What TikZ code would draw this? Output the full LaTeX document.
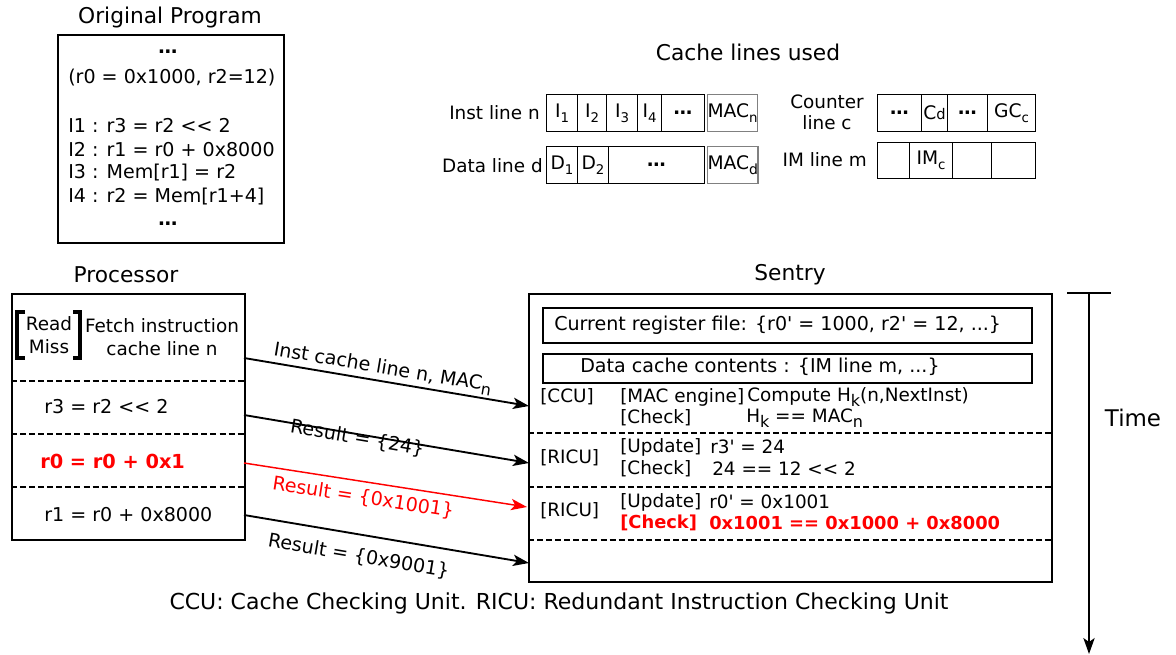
\documentclass[tikz,border=0pt]{standalone}
\usepackage{fontspec}
\setmainfont{DejaVu Sans}
\usetikzlibrary{arrows.meta}
\newcommand\lo[2][10]{\raisebox{-0.45ex}{\fontsize{#1}{#1}\selectfont #2}}
\newcommand\dotsb{{\bfseries\char"2026}}
\newcommand\ap{\XeTeXglyph\XeTeXglyphindex "quotesingle"\relax}
\newcommand\shl{<{}<}
\begin{document}
\begin{tikzpicture}[x=0.75pt,y=-0.75pt,
  pxw/.style={minimum width=#1*0.75pt},
  pxh/.style={minimum height=#1*0.75pt},
  title/.style={font=\fontsize{16.3}{19}\selectfont, inner sep=0pt},
  ptxt/.style={font=\fontsize{14.3}{17}\selectfont, inner sep=0pt},
  txt/.style={font=\fontsize{13.8}{16}\selectfont, inner sep=0pt},
  stxt/.style={font=\fontsize{14.3}{16}\selectfont, inner sep=0pt},
  bigbox/.style={draw, line width=1.4pt, inner sep=0pt, anchor=north west},
  cell/.style={draw, line width=0.8pt, inner sep=0pt, anchor=north west, font=\fontsize{14}{16}\selectfont},
  maccell/.style={cell, draw=black!50},
  divider/.style={line width=1.4pt, dash pattern=on 4.5pt off 2.3pt},
  tip/.style={-{Stealth[length=12pt,width=8.5pt,inset=3pt]}},
  msg/.style={line width=1.4pt, tip},
  lbl/.style={font=\fontsize{14.3}{16}\selectfont, inner sep=0pt, sloped},
  redt/.style={text=red, inner sep=0pt, font=\fontsize{13.4}{16}\selectfont\bfseries}
]
\useasboundingbox (0,0) rectangle (1176,655);

% ---------- Original program ----------
\node[title] (tprog) at (170,18) {Original Program};
\node[bigbox, pxw=226, pxh=208] (prog) at (57,34) {};
\node[ptxt] (pd1) at (168,52) {\dotsb};
\node[ptxt, anchor=west] (pinit) at (68,78) {(r0 = 0x1000, r2=12)};
\node[ptxt, anchor=west] (pi1) at (68,126) {I1 : r3 = r2 \shl{} 2};
\node[ptxt, anchor=west] (pi2) at (68,150) {I2 : r1 = r0 + 0x8000};
\node[ptxt, anchor=west] (pi3) at (68,173) {I3 : Mem[r1] = r2};
\node[ptxt, anchor=west] (pi4) at (68,197) {I4 : r2 = Mem[r1+4]};
\node[ptxt] (pd2) at (168,224) {\dotsb};

% ---------- Cache lines ----------
\node[title] (tcache) at (748,52) {Cache lines used};
\node[txt, anchor=east] (linst) at (540,113) {Inst line n};
\node[cell, pxw=31, pxh=37] (i1) at (546,94) {I\lo{1}};
\node[cell, pxw=29, pxh=37] (i2) at (577,94) {I\lo{2}};
\node[cell, pxw=31, pxh=37] (i3) at (606,94) {I\lo{3}};
\node[cell, pxw=24, pxh=37] (i4) at (637,94) {I\lo{4}};
\node[cell, pxw=43, pxh=37] (i5) at (661,94) {\dotsb};
\node[maccell, pxw=49, pxh=37] (macn) at (707,94) {MAC\lo[10]{n}};

\node[txt, anchor=east] (ldata) at (543,166) {Data line d};
\node[cell, pxw=31, pxh=37] (d1) at (546,146) {D\lo{1}};
\node[cell, pxw=31, pxh=37] (d2) at (577,146) {D\lo{2}};
\node[cell, pxw=96, pxh=37] (d3) at (608,146) {\dotsb};
\node[maccell, pxw=49, pxh=37] (macd) at (707,146) {MAC\lo[10.5]{d}};

\node[txt, align=center, font=\fontsize{13.8}{15.8}\selectfont] (lcnt) at (827,112) {Counter\\line c};
\node[cell, pxw=44, pxh=37] (c1) at (877,94) {\dotsb};
\node[cell, pxw=26, pxh=37] (c2) at (921,94) {C{\fontsize{11}{11}\selectfont d}};
\node[cell, pxw=40, pxh=37] (c3) at (947,94) {\dotsb};
\node[cell, pxw=48, pxh=37] (c4) at (987,94) {GC\lo[10]{c}};

\node[txt, anchor=east] (lim) at (867,160) {IM line m};
\node[cell, pxw=32, pxh=36] (m1) at (877,142) {};
\node[cell, pxw=43, pxh=36] (m2) at (909,142) {\raisebox{-0.8ex}{IM\lo[10]{c}}};
\node[cell, pxw=39, pxh=36] (m3) at (952,142) {};
\node[cell, pxw=44, pxh=36] (m4) at (991,142) {};

% ---------- Processor ----------
\node[title] (tproc) at (126,275) {Processor};
\node[bigbox, pxw=233, pxh=246] (proc) at (11,293) {};
\draw[line width=2.4pt] (25,312) -- (17,312) -- (17,358) -- (25,358);
\draw[line width=2.4pt] (73,312) -- (80,312) -- (80,358) -- (73,358);
\node[txt] (read) at (49,324) {Read};
\node[txt] (miss) at (49,347) {Miss};
\node[txt] (fetch1) at (162,326) {Fetch instruction};
\node[txt] (fetch2) at (162,349) {cache line n};
\draw[divider] (proc.west |- 0,381) -- (proc.east |- 0,381);
\draw[divider] (proc.west |- 0,434) -- (proc.east |- 0,434);
\draw[divider] (proc.west |- 0,487) -- (proc.east |- 0,487);
\node[ptxt, anchor=west] (ins1) at (44,407) {r3 = r2 \shl{} 2};
\node[redt, anchor=west, font=\fontsize{14.5}{16}\selectfont\bfseries] (ins2) at (40,461) {r0 = r0 + 0x1};
\node[ptxt, anchor=west] (ins3) at (44,515) {r1 = r0 + 0x8000};

% ---------- Sentry ----------
\node[title] (tsentry) at (790,275) {Sentry};
\node[bigbox, pxw=523, pxh=288] (sentry) at (528,293) {};
\node[bigbox, line width=1.6pt, pxw=489, pxh=35] (regf) at (542,307) {};
\node[stxt, anchor=west] (regt) at (554,325) {Current register file: \{r0\ap{} = 1000, r2\ap{} = 12, ...\}};
\node[bigbox, line width=1.6pt, pxw=489, pxh=29] (dcache) at (542,353) {};
\node[stxt, anchor=west] (dct) at (580,367) {Data cache contents : \{IM line m, ...\}};
\draw[divider] (sentry.west |- 0,433) -- (sentry.east |- 0,433);
\draw[divider] (sentry.west |- 0,487) -- (sentry.east |- 0,487);
\draw[divider] (sentry.west |- 0,540) -- (sentry.east |- 0,540);

\node[txt, anchor=west] (ccu) at (540,397) {[CCU]};
\node[txt, anchor=west] (mac) at (620,397) {[MAC engine]};
\node[txt, anchor=west] (comp) at (747,397) {Compute H\lo[12]{k}(n,NextInst)};
\node[txt, anchor=west] (chk1) at (620,418) {[Check]};
\node[txt, anchor=west] (chk1v) at (746,418) {H\lo[12]{k} == MAC\lo[12]{n}};

\node[txt, anchor=west] (ricu1) at (540,458) {[RICU]};
\node[txt, anchor=west] (upd1) at (620,447) {[Update]};
\node[txt, anchor=west] (upd1v) at (710,447) {r3\ap{} = 24};
\node[txt, anchor=west] (chk2) at (620,469) {[Check]};
\node[txt, anchor=west] (chk2v) at (712,469) {24 == 12 \shl{} 2};

\node[txt, anchor=west] (ricu2) at (540,511) {[RICU]};
\node[txt, anchor=west] (upd2) at (620,502) {[Update]};
\node[txt, anchor=west] (upd2v) at (709,502) {r0\ap{} = 0x1001};
\node[redt, anchor=west] (chk3) at (620,523) {[Check]};
\node[redt, anchor=west] (chk3v) at (709,523) {0x1001 == 0x1000 + 0x8000};

% ---------- Messages ----------
\coordinate (s1) at (244,358); \coordinate (e1) at (529,406);
\coordinate (s2) at (244,415); \coordinate (e2) at (529,463);
\coordinate (s3) at (244,463); \coordinate (e3) at (527,507);
\coordinate (s4) at (244,515); \coordinate (e4) at (529,563);
\draw[msg] (s1) -- node[lbl, pos=0.48, above=1.5pt] {Inst cache line n, MAC\lo[12]{n}} (e1);
\draw[msg] (s2) -- node[lbl, pos=0.40, below=-4pt] {Result = \{24\}} (e2);
\draw[msg, draw=red, fill=red, line width=1.1pt] (s3) -- node[lbl, text=red, pos=0.43, below=5pt] {Result = \{0x1001\}} (e3);
\draw[msg] (s4) -- node[lbl, pos=0.415, below=9pt] {Result = \{0x9001\}} (e4);

% ---------- Time ----------
\coordinate (ttop) at (1089,293);
\coordinate (tbot) at (1089,654);
\draw[line width=1.4pt] (1067,293) -- (1111,293);
\draw[line width=1.2pt, tip] (ttop) -- (tbot);
\node[font=\fontsize{17.2}{20}\selectfont, inner sep=0pt] (time) at (1133,418) {Time};

% ---------- Caption ----------
\node[font=\fontsize{16.5}{19}\selectfont, inner sep=0pt] (cap) at (559,603) {CCU: Cache Checking Unit. RICU: Redundant Instruction Checking Unit};
\end{tikzpicture}
\end{document}
